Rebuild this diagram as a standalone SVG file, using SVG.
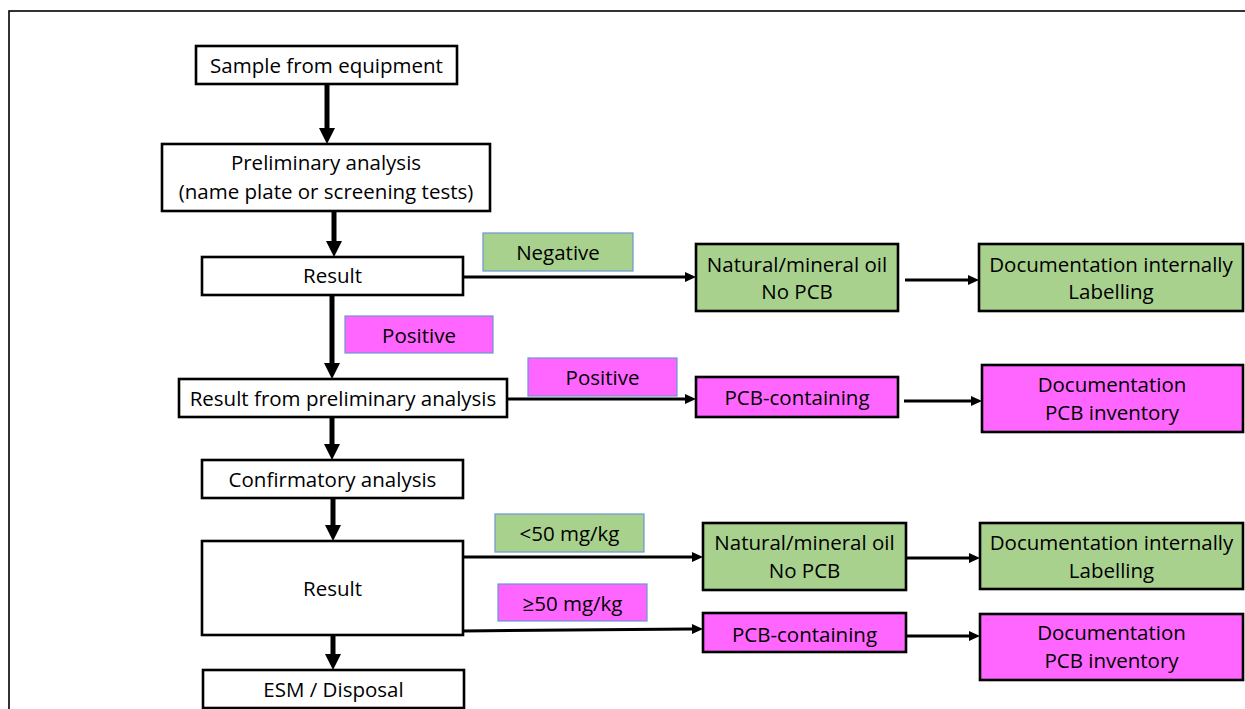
<svg xmlns="http://www.w3.org/2000/svg" width="1245" height="709" viewBox="0 0 1245 709">
<style>
  text { font-family: "Open Sans", "DejaVu Sans", sans-serif; font-size: 20.5px; fill: #000; text-anchor: middle; }
  .node { stroke: #000; stroke-width: 2.6; }
  .white { fill: #fff; }
  .green { fill: #A9D18E; }
  .pink { fill: #FF66FF; }
  .lbl { stroke: #6A96D2; stroke-width: 1.2; }
  .big { stroke: #000; stroke-width: 5; fill: none; marker-end: url(#ahBig); }
  .thin { stroke: #000; stroke-width: 3; fill: none; marker-end: url(#ahSmall); }
</style>
<defs>
  <marker id="ahBig" markerUnits="userSpaceOnUse" markerWidth="16" markerHeight="16" viewBox="0 0 16 16" refX="0" refY="8" orient="auto">
    <path d="M0,0 L16,8 L0,16 z" fill="#000"/>
  </marker>
  <marker id="ahSmall" markerUnits="userSpaceOnUse" markerWidth="11" markerHeight="10" viewBox="0 0 11 10" refX="0" refY="5" orient="auto">
    <path d="M0,0 L11,5 L0,10 z" fill="#000"/>
  </marker>
</defs>
<rect width="1245" height="709" fill="#fff"/>
<rect x="9" y="11" width="1245" height="720" fill="none" stroke="#000" stroke-width="1.6"/>

<g id="connectors">
  <line class="big" x1="327" y1="84" x2="327" y2="128"/>
  <line class="big" x1="334" y1="211" x2="334" y2="241"/>
  <line class="big" x1="332" y1="295" x2="332" y2="363"/>
  <line class="big" x1="332" y1="417" x2="332" y2="444"/>
  <line class="big" x1="333" y1="498" x2="333" y2="525"/>
  <line class="big" x1="333" y1="635" x2="333" y2="654"/>
  <line class="thin" x1="463" y1="277" x2="685" y2="277"/>
  <line class="thin" x1="905" y1="280" x2="968" y2="280"/>
  <line class="thin" x1="508" y1="399" x2="685" y2="399"/>
  <line class="thin" x1="904" y1="401" x2="971" y2="401"/>
  <line class="thin" x1="463" y1="557" x2="692" y2="557"/>
  <line class="thin" x1="463" y1="631" x2="692" y2="629"/>
  <line class="thin" x1="906" y1="558" x2="969" y2="558"/>
  <line class="thin" x1="906" y1="636" x2="969" y2="636"/>
</g>

<g id="n-sample">
  <rect class="node white" x="196" y="46" width="261" height="38"/>
  <text x="326.5" y="73">Sample from equipment</text>
</g>
<g id="n-prelim">
  <rect class="node white" x="162" y="144" width="328" height="67"/>
  <text x="326" y="170">Preliminary analysis</text>
  <text x="326" y="199">(name plate or screening tests)</text>
</g>
<g id="n-result1">
  <rect class="node white" x="202" y="257" width="261" height="38"/>
  <text x="332.5" y="283">Result</text>
</g>
<g id="l-negative">
  <rect class="lbl green" x="483" y="233" width="150" height="38"/>
  <text x="558" y="260">Negative</text>
</g>
<g id="n-natural1">
  <rect class="node green" x="696" y="244" width="202" height="67"/>
  <text x="797" y="272">Natural/mineral oil</text>
  <text x="797" y="299">No PCB</text>
</g>
<g id="n-doc1">
  <rect class="node green" x="979" y="244" width="264" height="67"/>
  <text x="1111" y="272">Documentation internally</text>
  <text x="1111" y="299">Labelling</text>
</g>
<g id="l-positive1">
  <rect class="lbl pink" x="345" y="316" width="148" height="37"/>
  <text x="419" y="343">Positive</text>
</g>
<g id="n-resultprelim">
  <rect class="node white" x="179" y="379" width="328" height="38"/>
  <text x="343" y="406">Result from preliminary analysis</text>
</g>
<g id="l-positive2">
  <rect class="lbl pink" x="528" y="358" width="149" height="38"/>
  <text x="602.5" y="385">Positive</text>
</g>
<g id="n-pcb1">
  <rect class="node pink" x="696" y="377" width="202" height="40"/>
  <text x="797" y="405">PCB-containing</text>
</g>
<g id="n-pcbdoc1">
  <rect class="node pink" x="982" y="365" width="261" height="67"/>
  <text x="1112" y="392">Documentation</text>
  <text x="1112" y="420">PCB inventory</text>
</g>
<g id="n-confirm">
  <rect class="node white" x="202" y="460" width="261" height="38"/>
  <text x="332.5" y="487">Confirmatory analysis</text>
</g>
<g id="n-result2">
  <rect class="node white" x="202" y="541" width="261" height="94"/>
  <text x="332.5" y="596">Result</text>
</g>
<g id="l-lt50">
  <rect class="lbl green" x="495" y="514" width="149" height="38"/>
  <text x="569.5" y="541">&lt;50 mg/kg</text>
</g>
<g id="l-ge50">
  <rect class="lbl pink" x="498" y="584" width="149" height="37"/>
  <text x="572.5" y="611">≥50 mg/kg</text>
</g>
<g id="n-natural2">
  <rect class="node green" x="703" y="523" width="203" height="67"/>
  <text x="804.5" y="550">Natural/mineral oil</text>
  <text x="804.5" y="578">No PCB</text>
</g>
<g id="n-pcb2">
  <rect class="node pink" x="703" y="613" width="203" height="39"/>
  <text x="804.5" y="642">PCB-containing</text>
</g>
<g id="n-doc2">
  <rect class="node green" x="980" y="523" width="263" height="66"/>
  <text x="1111.5" y="550">Documentation internally</text>
  <text x="1111.5" y="578">Labelling</text>
</g>
<g id="n-pcbdoc2">
  <rect class="node pink" x="980" y="614" width="263" height="66"/>
  <text x="1111.5" y="640">Documentation</text>
  <text x="1111.5" y="668">PCB inventory</text>
</g>
<g id="n-esm">
  <rect class="node white" x="203" y="670" width="261" height="38"/>
  <text x="333.5" y="697">ESM / Disposal</text>
</g>
</svg>
